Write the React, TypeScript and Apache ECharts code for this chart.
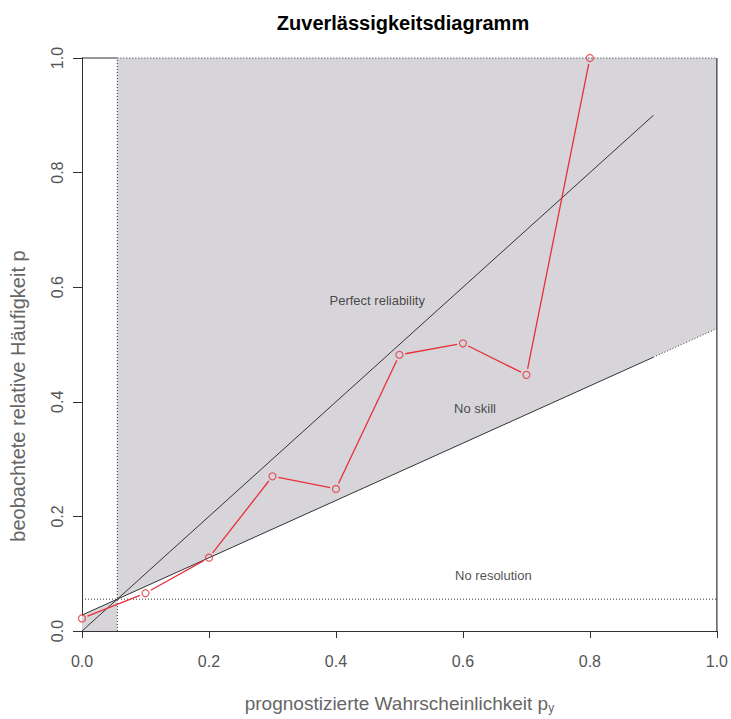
import React, { useEffect, useRef } from "react";
import * as echarts from "echarts";

// ---- data ----
const climatology = 0.0556;
const forecastProbs = [0.0, 0.1, 0.2, 0.3, 0.4, 0.5, 0.6, 0.7, 0.8];
const observedFreq = [0.022, 0.066, 0.128, 0.27, 0.248, 0.482, 0.502, 0.447, 1.0];
const axisTicks = [0.0, 0.2, 0.4, 0.6, 0.8, 1.0];
const refLineEnd = 0.9;
const annotationTexts = ["Perfect reliability", "No skill", "No resolution"];
const annotationX = [0.465, 0.619, 0.648];
const annotationY = [0.576, 0.388, 0.096];

const noSkill = (x: number) => climatology + (x - climatology) / 2;

const FONT = "Liberation Sans, Arial, sans-serif";
const DARK = "#333";

export default function App() {
  const ref = useRef<HTMLDivElement>(null);
  useEffect(() => {
    if (!ref.current) return;
    const chart = echarts.init(ref.current, null, { renderer: "svg" });

    const regionRight = [
      [climatology, climatology],
      [1, noSkill(1)],
      [1, 1],
      [climatology, 1],
    ];
    const regionLeft = [
      [0, 0],
      [climatology, 0],
      [climatology, climatology],
      [0, noSkill(0)],
    ];
    const points = forecastProbs.map((x, i) => [x, observedFreq[i]]);

    const lineSeries = (data: number[][], type: string, width = 1) => ({
      type: "line",
      data,
      symbol: "none",
      clip: false,
      silent: true,
      lineStyle: { color: DARK, width, type: type === "dotted" ? [1, 2] : "solid" },
      z: 3,
    });

    chart.setOption({
      animation: false,
      title: {
        text: "Zuverlässigkeitsdiagramm",
        left: 398,
        textAlign: "center",
        top: 8,
        textStyle: { fontFamily: FONT, fontWeight: "bold", fontSize: 20, color: "#000" },
      },
      graphic: [
        {
          type: "text",
          x: 18,
          y: 396,
          rotation: Math.PI / 2,
          style: {
            text: "beobachtete relative Häufigkeit p",
            fill: "#666",
            fontSize: 20,
            fontFamily: FONT,
            align: "center",
            verticalAlign: "middle",
          },
        },
      ],
      grid: { left: 82, right: 13, top: 58, bottom: 86 },
      xAxis: {
        type: "value",
        min: 0,
        max: 1,
        interval: 0.2,
        splitLine: { show: false },
        axisLine: { show: true, lineStyle: { color: DARK } },
        axisTick: { show: true, length: 7, lineStyle: { color: DARK } },
        axisLabel: {
          color: "#555",
          fontSize: 16,
          fontFamily: FONT,
          margin: 22,
          formatter: (v: number) => (axisTicks.includes(Math.round(v * 10) / 10) ? v.toFixed(1) : ""),
        },
        name: "prognostizierte Wahrscheinlichkeit p{sub|y}",
        nameLocation: "middle",
        nameGap: 62,
        nameTextStyle: {
          color: "#666",
          fontSize: 19,
          fontFamily: FONT,
          rich: {
            sub: { fontSize: 12, color: "#666", fontFamily: FONT, padding: [9, 0, 0, 0] },
          },
        },
      },
      yAxis: {
        type: "value",
        min: 0,
        max: 1,
        interval: 0.2,
        splitLine: { show: false },
        axisLine: { show: true, lineStyle: { color: DARK } },
        axisTick: { show: true, length: 9, lineStyle: { color: DARK } },
        axisLabel: {
          color: "#555",
          fontSize: 16,
          fontFamily: FONT,
          rotate: 90,
          margin: 17,
          formatter: (v: number) => v.toFixed(1),
        },
      },
      series: [
        {
          type: "custom",
          silent: true,
          clip: false,
          z: 1,
          data: [0, 1],
          renderItem: (params: any, api: any) => {
            const poly = params.dataIndex === 0 ? regionRight : regionLeft;
            return {
              type: "polygon",
              shape: { points: poly.map((p) => api.coord(p)) },
              style: { fill: "#d7d5d9", stroke: "none" },
            };
          },
        },
        // frame: right edge and top-left segment
        lineSeries([[1, 0], [1, 1]], "solid", 1.2),
        lineSeries([[0, 1], [climatology, 1]], "solid", 1.2),
        // dotted borders of skill region
        lineSeries([[climatology, 1], [1, 1]], "dotted"),
        lineSeries([[climatology, 0], [climatology, 1]], "dotted"),
        // no resolution
        lineSeries([[0, climatology], [1, climatology]], "dotted"),
        // perfect reliability
        lineSeries([[0, 0], [refLineEnd, refLineEnd]], "solid"),
        // no skill
        lineSeries([[0, noSkill(0)], [refLineEnd, noSkill(refLineEnd)]], "solid"),
        lineSeries([[refLineEnd, noSkill(refLineEnd)], [1, noSkill(1)]], "dotted"),
        // red segments with gaps (type "b")
        {
          type: "custom",
          silent: true,
          clip: false,
          z: 5,
          data: points,
          renderItem: (params: any, api: any) => {
            const i = params.dataIndex;
            if (i >= points.length - 1) return null;
            const a = api.coord(points[i]);
            const b = api.coord(points[i + 1]);
            const dx = b[0] - a[0];
            const dy = b[1] - a[1];
            const len = Math.sqrt(dx * dx + dy * dy);
            const gap = 6;
            if (len <= 2 * gap) return null;
            const ux = dx / len;
            const uy = dy / len;
            return {
              type: "line",
              shape: {
                x1: a[0] + ux * gap,
                y1: a[1] + uy * gap,
                x2: b[0] - ux * gap,
                y2: b[1] - uy * gap,
              },
              style: { stroke: "#e8303a", lineWidth: 1.3 },
            };
          },
        },
        {
          type: "scatter",
          data: points,
          clip: false,
          silent: true,
          z: 6,
          symbol: "circle",
          symbolSize: 7,
          itemStyle: { color: "rgba(0,0,0,0)", borderColor: "#e8303a", borderWidth: 1.2 },
        },
        {
          type: "scatter",
          silent: true,
          z: 7,
          symbolSize: 0,
          data: annotationTexts.map((t, i) => ({ name: t, value: [annotationX[i], annotationY[i]] })),
          label: {
            show: true,
            position: "inside",
            formatter: "{b}",
            color: "#222",
            fontSize: 13,
            fontFamily: FONT,
          },
        },
      ],
    });
    return () => chart.dispose();
  }, []);

  return (
    <div
      ref={ref}
      style={{ position: "fixed", left: 0, top: 0, width: 731, height: 719, background: "#fff" }}
    />
  );
}
